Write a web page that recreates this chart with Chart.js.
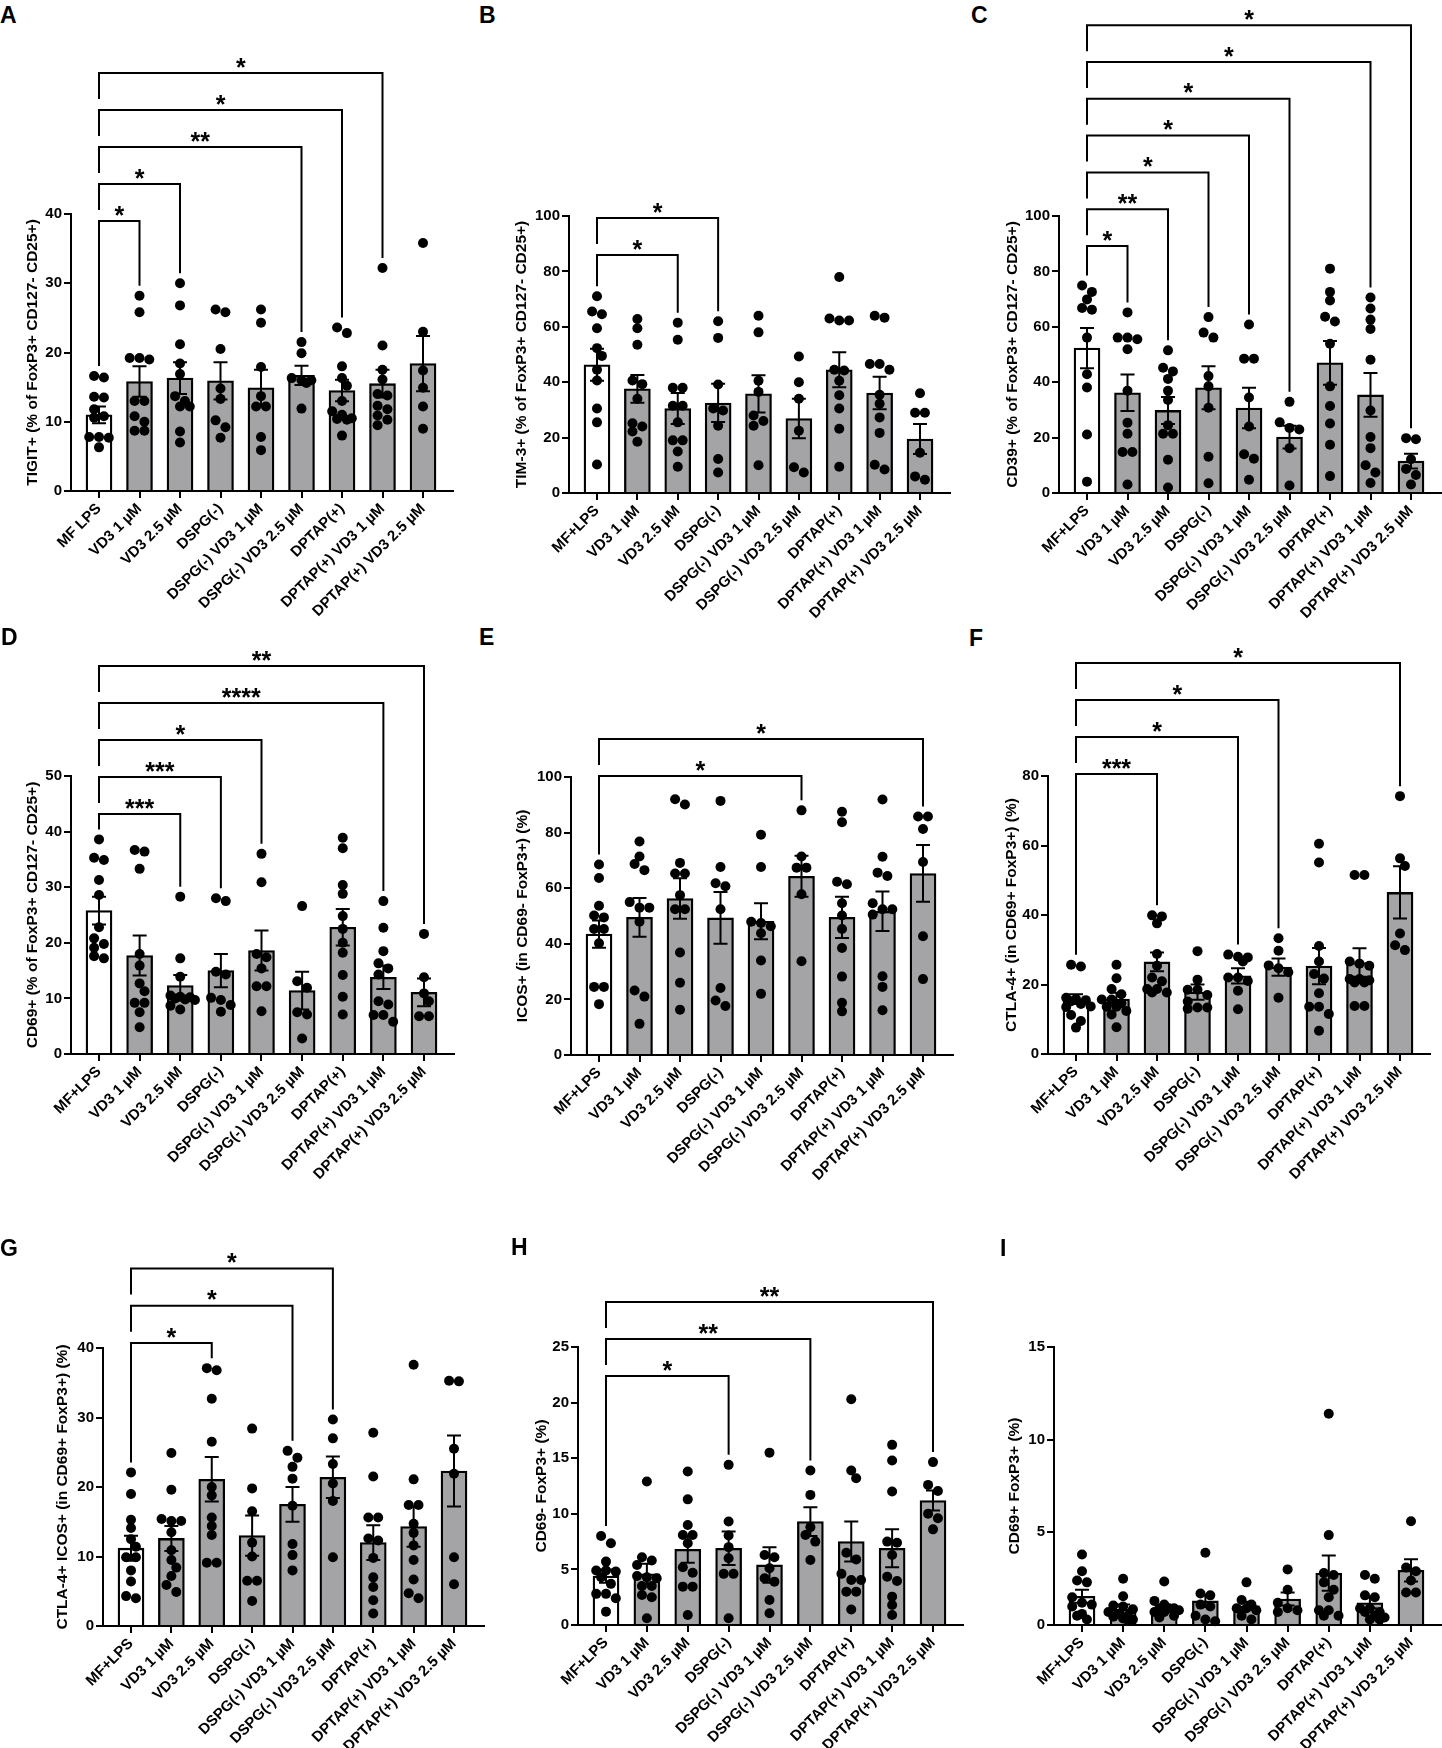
<!DOCTYPE html>
<html>
<head>
<meta charset="utf-8">
<script src="https://cdn.jsdelivr.net/npm/chart.js@4.4.1/dist/chart.umd.min.js"></script>
<style>
  html, body { margin: 0; padding: 0; background: #fff; overflow: hidden; }
  #fig { position: relative; width: 1442px; height: 1748px; }
  #fig canvas { position: absolute; }
  .tag { position: absolute; font: bold 23px "Liberation Sans", Arial, sans-serif; line-height: 23px; color: #000; }
</style>
</head>
<body>
<div id="fig"></div>
<script>
// groups (x axis)
const groups = ["MF+LPS", "VD3 1 µM", "VD3 2.5 µM", "DSPG(-)", "DSPG(-) VD3 1 µM", "DSPG(-) VD3 2.5 µM", "DPTAP(+)", "DPTAP(+) VD3 1 µM", "DPTAP(+) VD3 2.5 µM"];
const groupsA = ["MF LPS"].concat(groups.slice(1));

// y ticks
const ticks40 = [0, 10, 20, 30, 40];
const ticks50 = [0, 10, 20, 30, 40, 50];
const ticks80 = [0, 20, 40, 60, 80];
const ticks100 = [0, 20, 40, 60, 80, 100];
const ticks25 = [0, 5, 10, 15, 20, 25];
const ticks15 = [0, 5, 10, 15];

// A - TIGIT
const tigitMean = [11.0, 15.8, 16.3, 15.9, 14.9, 16.7, 14.5, 15.5, 18.4];
const tigitSem = [1.2, 2.2, 2.3, 2.7, 2.6, 1.4, 1.55, 2.0, 4.0];
const tigitDots = [
  [16.6, 16.4, 13.6, 13.5, 11.8, 10.8, 10.6, 7.8, 7.7, 7.8, 6.3],
  [28.2, 25.8, 19.2, 19.0, 19.2, 13.0, 13.0, 10.8, 10.0, 8.7, 8.7],
  [30.0, 26.8, 21.2, 18.4, 16.9, 13.7, 13.0, 12.2, 12.2, 8.6, 7.0],
  [25.8, 26.2, 20.5, 14.8, 13.3, 10.2, 9.2, 7.7],
  [26.2, 24.3, 17.9, 13.7, 12.2, 12.2, 7.8, 5.9],
  [21.5, 19.9, 16.0, 16.0, 15.6, 16.3, 11.9],
  [23.6, 22.8, 18.0, 16.3, 15.2, 13.0, 11.5, 11.0, 10.5, 10.3, 10.4, 8.0],
  [32.2, 21.0, 17.5, 16.1, 14.0, 13.8, 12.3, 11.8, 10.9, 10.3, 9.5],
  [35.8, 23.0, 17.4, 14.9, 12.2, 9.0]
];
const tigitSig = [[0, 1, "*"], [0, 2, "*"], [0, 5, "**"], [0, 6, "*"], [0, 7, "*"]];

// B - TIM-3
const tim3Mean = [46.3, 37.6, 30.5, 32.5, 35.8, 26.9, 44.5, 36.1, 19.5];
const tim3Sem = [5.8, 5.0, 5.6, 6.9, 6.7, 7.1, 6.3, 5.9, 5.4];
const tim3Dots = [
  [71.0, 64.5, 65.5, 59.5, 52.3, 49.5, 44.5, 40.6, 30.5, 25.5, 10.3],
  [62.8, 59.5, 53.5, 40.6, 39.3, 34.0, 25.2, 24.0, 22.2, 18.5],
  [61.5, 55.3, 38.0, 38.0, 31.5, 31.5, 25.5, 19.0, 19.0, 15.0, 9.5],
  [62.0, 56.0, 39.2, 30.5, 29.8, 24.3, 12.3, 7.4],
  [64.0, 58.0, 40.5, 36.5, 28.0, 26.0, 24.3, 10.0],
  [49.3, 40.0, 34.0, 22.5, 9.3, 7.4],
  [78.0, 62.3, 62.3, 63.0, 44.5, 44.2, 40.5, 35.3, 30.5, 23.2, 9.5],
  [64.0, 63.3, 46.6, 46.6, 44.5, 35.5, 32.2, 27.3, 21.7, 10.2, 8.5],
  [36.0, 29.0, 29.0, 14.5, 6.0, 4.8]
];
const tim3Sig = [[0, 2, "*"], [0, 3, "*"]];

// C - CD39
const cd39Mean = [52.3, 36.2, 29.8, 38.0, 30.7, 20.2, 47.0, 35.4, 11.5];
const cd39Sem = [7.3, 6.6, 4.9, 7.8, 7.3, 4.1, 7.9, 7.9, 2.7];
const cd39Dots = [
  [72.6, 66.8, 74.9, 69.9, 66.2, 56.1, 42.9, 38.1, 21.1, 4.1],
  [65.2, 56.1, 56.1, 55.5, 51.9, 36.9, 25.4, 21.4, 14.8, 14.8, 3.1],
  [51.5, 43.9, 45.2, 41.2, 36.9, 33.6, 24.5, 21.4, 21.4, 12.0, 2.0],
  [63.5, 57.9, 56.1, 42.2, 38.5, 30.8, 13.1, 3.5],
  [60.8, 48.5, 48.5, 34.5, 24.0, 14.0, 12.4, 4.8],
  [32.9, 25.5, 22.9, 23.5, 16.2, 2.7],
  [81.0, 72.6, 69.5, 63.6, 61.9, 53.9, 38.5, 31.4, 25.1, 17.4, 6.1],
  [70.6, 66.6, 62.6, 59.2, 48.1, 29.8, 20.2, 16.2, 10.0, 7.4, 3.6],
  [19.4, 19.8, 12.2, 8.7, 6.5, 3.1]
];
const cd39Sig = [[0, 1, "*"], [0, 2, "**"], [0, 3, "*"], [0, 4, "*"], [0, 5, "*"], [0, 7, "*"], [0, 8, "*"]];

// D - CD69
const cd69Mean = [25.8, 17.7, 12.3, 15.0, 18.6, 11.4, 22.8, 13.8, 11.1];
const cd69Sem = [2.5, 3.6, 1.9, 3.0, 3.6, 3.4, 3.3, 2.1, 2.5];
const cd69Dots = [
  [38.6, 34.9, 35.3, 31.3, 28.6, 22.8, 20.8, 19.8, 19.1, 17.2, 17.6],
  [36.4, 36.7, 33.3, 18.0, 15.9, 12.7, 11.3, 9.2, 9.2, 7.5, 4.8],
  [28.3, 17.2, 13.9, 10.5, 10.3, 10.2, 10.0, 9.8, 9.7, 8.7, 8.0],
  [28.0, 27.5, 14.8, 14.3, 10.1, 9.7, 8.8, 7.6],
  [36.0, 30.9, 18.0, 17.4, 15.4, 12.2, 12.2, 7.7],
  [26.6, 13.1, 11.9, 7.5, 7.1, 2.8],
  [38.9, 37.0, 30.4, 28.8, 24.8, 22.5, 20.0, 18.2, 14.2, 10.3, 7.1],
  [27.5, 22.7, 18.5, 16.3, 15.4, 14.3, 9.5, 8.9, 7.0, 7.0, 5.8],
  [21.6, 13.8, 10.9, 9.5, 6.8, 6.8]
];
const cd69Sig = [[0, 2, "***"], [0, 3, "***"], [0, 4, "*"], [0, 7, "****"], [0, 8, "**"]];

// E - ICOS
const icosMean = [43.5, 49.5, 56.3, 49.3, 48.1, 64.3, 49.5, 51.7, 65.3];
const icosSem = [4.9, 7.0, 7.3, 9.3, 6.5, 7.4, 7.4, 7.1, 10.2];
const icosDots = [
  [68.5, 63.7, 53.7, 50.2, 49.5, 45.3, 45.3, 40.2, 24.5, 24.5, 18.3],
  [76.8, 71.4, 68.7, 66.5, 55.0, 53.0, 53.0, 47.9, 21.0, 23.2, 11.2],
  [90.1, 92.0, 69.1, 65.3, 65.3, 57.5, 52.4, 52.4, 36.9, 26.0, 16.3],
  [91.4, 67.6, 61.8, 60.7, 52.4, 24.1, 19.6, 17.6],
  [79.2, 67.6, 47.9, 47.5, 46.3, 43.8, 34.0, 22.0],
  [88.0, 71.4, 67.4, 67.4, 57.8, 33.7],
  [87.5, 83.7, 62.3, 61.4, 54.6, 50.2, 45.3, 38.5, 28.2, 18.8, 15.7],
  [91.9, 71.3, 65.6, 64.4, 54.6, 52.4, 52.4, 50.5, 28.3, 24.5, 16.1],
  [85.8, 85.8, 81.3, 69.4, 42.7, 27.3]
];
const icosSig = [[0, 5, "*"], [0, 8, "*"]];

// F - CTLA-4
const ctlaMean = [15.8, 15.8, 26.5, 17.8, 22.5, 25.0, 25.3, 26.3, 46.5];
const ctlaSem = [1.4, 1.8, 2.7, 2.2, 2.2, 2.5, 5.2, 4.1, 7.5];
const ctlaDots = [
  [25.7, 25.2, 16.2, 15.8, 15.5, 15.2, 14.4, 13.7, 13.5, 11.2, 9.5, 7.6],
  [25.7, 21.8, 18.7, 17.2, 15.7, 15.7, 14.6, 13.6, 13.6, 12.4, 11.4, 7.7],
  [39.9, 39.6, 37.6, 28.8, 25.4, 22.0, 20.9, 18.7, 18.7, 17.7, 17.7],
  [29.6, 21.4, 18.5, 18.5, 17.0, 15.1, 13.4, 13.4, 13.0],
  [28.0, 28.6, 27.8, 26.6, 22.0, 22.0, 21.0, 18.2, 12.9],
  [33.3, 29.7, 25.5, 24.7, 23.5, 16.2],
  [60.5, 55.1, 31.1, 26.6, 23.0, 21.7, 17.5, 13.6, 13.6, 11.5, 6.7],
  [51.5, 51.5, 26.6, 26.0, 25.4, 21.6, 21.6, 21.2, 20.6, 20.6, 13.8, 13.8],
  [74.2, 56.3, 54.1, 34.7, 31.3, 29.9]
];
const ctlaSig = [[0, 2, "***"], [0, 4, "*"], [0, 5, "*"], [0, 8, "*"]];

// G - CTLA-4+ ICOS+
const dblMean = [11.2, 12.6, 21.1, 13.0, 17.5, 21.4, 12.0, 14.3, 22.3];
const dblSem = [1.8, 1.8, 3.2, 2.9, 2.5, 3.0, 2.5, 2.9, 5.1];
const dblDots = [
  [22.1, 19.0, 15.3, 14.1, 12.5, 11.4, 9.9, 9.9, 8.0, 6.4, 4.0, 4.3],
  [24.9, 19.6, 15.1, 15.1, 15.4, 13.5, 10.9, 9.5, 8.4, 7.2, 5.9, 4.9],
  [36.8, 37.1, 32.7, 26.5, 20.0, 18.8, 15.6, 14.4, 13.1, 9.1, 9.1],
  [28.4, 19.8, 16.5, 12.0, 10.0, 6.5, 6.5, 3.6],
  [24.2, 25.2, 22.9, 21.2, 17.3, 11.8, 10.2, 8.0],
  [29.7, 27.0, 23.3, 20.5, 18.0, 9.9],
  [27.8, 21.5, 15.6, 15.6, 12.6, 12.3, 9.8, 7.0, 5.6, 3.7, 1.8],
  [37.6, 21.1, 17.4, 17.4, 14.7, 13.4, 11.6, 9.5, 6.7, 4.7, 4.0],
  [35.2, 35.3, 25.5, 21.9, 9.9, 6.0]
];
const dblSig = [[0, 2, "*"], [0, 4, "*"], [0, 5, "*"]];

// H - CD69- FoxP3+
const negMean = [4.4, 4.6, 6.8, 6.9, 5.4, 9.3, 7.5, 6.9, 11.2];
const negSem = [0.6, 0.9, 1.2, 1.5, 1.6, 1.3, 1.8, 1.7, 0.9];
const negDots = [
  [8.0, 7.35, 5.7, 4.9, 4.9, 4.8, 4.3, 3.7, 2.8, 2.8, 2.4, 1.2],
  [12.9, 6.1, 5.8, 5.4, 4.4, 4.3, 4.2, 3.5, 3.5, 2.7, 2.5, 0.6],
  [13.8, 11.3, 9.0, 8.1, 8.1, 7.35, 5.2, 4.7, 3.45, 3.45, 0.9],
  [14.4, 9.3, 8.05, 7.0, 6.0, 4.6, 4.6, 0.6],
  [15.5, 6.3, 6.1, 5.1, 4.2, 3.9, 2.25, 1.05],
  [13.9, 11.7, 8.8, 8.1, 7.5, 5.85],
  [20.3, 13.9, 13.2, 6.5, 5.9, 4.6, 4.05, 4.05, 3.0, 3.0, 1.4],
  [16.2, 14.8, 12.0, 7.4, 7.5, 6.3, 4.35, 3.95, 2.55, 1.8, 0.9],
  [14.65, 12.6, 12.05, 10.0, 9.6, 8.6]
];
const negSig = [[0, 3, "*"], [0, 5, "**"], [0, 8, "**"]];

// I - CD69+ FoxP3+
const posMean = [1.55, 0.85, 0.9, 1.3, 1.03, 1.4, 2.8, 1.2, 2.95];
const posSem = [0.35, 0.25, 0.15, 0.33, 0.22, 0.35, 0.95, 0.3, 0.6];
const posDots = [
  [3.8, 2.9, 2.4, 2.3, 1.5, 1.2, 1.1, 1.0, 0.6, 0.5, 0.3],
  [2.5, 1.55, 1.05, 1.0, 0.85, 0.7, 0.6, 0.5, 0.45, 0.35, 0.3, 0.25],
  [2.35, 1.3, 1.1, 0.9, 0.9, 0.9, 0.8, 0.7, 0.7, 0.5, 0.4],
  [3.9, 1.7, 1.6, 1.1, 1.0, 0.5, 0.3, 0.2],
  [2.3, 1.35, 1.1, 0.9, 0.9, 0.8, 0.5, 0.3],
  [3.0, 1.9, 1.2, 0.9, 0.8, 0.7],
  [11.4, 4.85, 2.8, 2.7, 2.3, 1.9, 1.5, 0.8, 0.8, 0.5, 0.5],
  [2.7, 2.5, 1.6, 1.5, 0.9, 0.9, 0.7, 0.7, 0.5, 0.4, 0.3, 0.3],
  [5.6, 3.1, 2.9, 2.4, 1.75, 1.75]
];
const posSig = [];

// look
const FONT_FAMILY = '"Liberation Sans", Arial, sans-serif';
const BAR_GRAY = "#a4a4a7";
const DOT_R = 5;
const CAP = 7;
const YAXIS_W = 60;

Chart.defaults.font.family = FONT_FAMILY;
Chart.defaults.font.weight = "bold";
Chart.defaults.color = "#000";

// canvas layout per panel (page px): axis box L..R, yT..y0, canvas ct..cb
const panels = [
  { tag: "A", cats: groupsA, title: "TIGIT+ (% of FoxP3+ CD127- CD25+)", ticks: ticks40, means: tigitMean, sem: tigitSem, dots: tigitDots, sig: tigitSig,
    lay: { L: 71, R: 453, yT: 214, y0: 491, ct: 0, cb: 632, tOff: 38, sigBase: 7, sigStep: 37, tagX: 0, tagY: 4 } },
  { tag: "B", cats: groups, title: "TIM-3+ (% of FoxP3+ CD127- CD25+)", ticks: ticks100, means: tim3Mean, sem: tim3Sem, dots: tim3Dots, sig: tim3Sig,
    lay: { L: 569, R: 950, yT: 216, y0: 493, ct: 0, cb: 632, tOff: 47, sigBase: 39, sigStep: 37, tagX: 479, tagY: 4 } },
  { tag: "C", cats: groups, title: "CD39+ (% of FoxP3+ CD127- CD25+)", ticks: ticks100, means: cd39Mean, sem: cd39Sem, dots: cd39Dots, sig: cd39Sig,
    lay: { L: 1059, R: 1441, yT: 216, y0: 493, ct: 0, cb: 632, tOff: 46, sigBase: 30, sigStep: 36.8, tagX: 971, tagY: 4 } },
  { tag: "D", cats: groups, title: "CD69+ (% of FoxP3+ CD127- CD25+)", ticks: ticks50, means: cd69Mean, sem: cd69Sem, dots: cd69Dots, sig: cd69Sig,
    lay: { L: 71, R: 454, yT: 776, y0: 1054, ct: 615, cb: 1240, tOff: 38, sigBase: 38, sigStep: 37, tagX: 1, tagY: 626 } },
  { tag: "E", cats: groups, title: "ICOS+ (in CD69- FoxP3+) (%)", ticks: ticks100, means: icosMean, sem: icosSem, dots: icosDots, sig: icosSig,
    lay: { L: 571, R: 953, yT: 777, y0: 1055, ct: 615, cb: 1240, tOff: 48, sigBase: -1, sigStep: 37, tagX: 479, tagY: 626 } },
  { tag: "F", cats: groups, title: "CTLA-4+ (in CD69+ FoxP3+) (%)", ticks: ticks80, means: ctlaMean, sem: ctlaSem, dots: ctlaDots, sig: ctlaSig,
    lay: { L: 1048, R: 1430, yT: 776, y0: 1054, ct: 615, cb: 1240, tOff: 36, sigBase: -2, sigStep: 37, tagX: 969, tagY: 627 } },
  { tag: "G", cats: groups, title: "CTLA-4+ ICOS+ (in CD69+ FoxP3+) (%)", ticks: ticks40, means: dblMean, sem: dblSem, dots: dblDots, sig: dblSig,
    lay: { L: 103, R: 484, yT: 1348, y0: 1626, ct: 1235, cb: 1748, tOff: 40, sigBase: -5, sigStep: 37.2, tagX: 0, tagY: 1237 } },
  { tag: "H", cats: groups, title: "CD69- FoxP3+ (%)", ticks: ticks25, means: negMean, sem: negSem, dots: negDots, sig: negSig,
    lay: { L: 578, R: 963, yT: 1347, y0: 1625, ct: 1235, cb: 1748, tOff: 36, sigBase: 29, sigStep: 37, tagX: 511, tagY: 1236 } },
  { tag: "I", cats: groups, title: "CD69+ FoxP3+ (%)", ticks: ticks15, means: posMean, sem: posSem, dots: posDots, sig: posSig,
    lay: { L: 1054, R: 1441, yT: 1347, y0: 1625, ct: 1235, cb: 1748, tOff: 39, sigBase: 0, sigStep: 37, tagX: 1000, tagY: 1237 } }
];

// GraphPad-like scatter: near-equal values sit side by side (max 3), centred;
// rows dodge each other by half a dot, and overlap when the group is too dense
function swarm(vals, ppu) {
  const g = 2 * DOT_R - 0.2;
  const idx = vals.map((v, i) => i).sort((a, b) => vals[b] - vals[a]);
  const placed = [];
  const offs = [];
  let i = 0;
  while (i < idx.length) {
    const row = [idx[i]];
    let j = i + 1;
    while (j < idx.length && row.length < 3 && (vals[idx[i]] - vals[idx[j]]) * ppu < 1.5 * DOT_R) row.push(idx[j++]);
    i = j;
    const base = row.map((_, k) => (k - (row.length - 1) / 2) * g);
    let best = 0, bestGap = -1;
    for (const sh of [0, g / 2, -g / 2, g, -g]) {
      if (Math.abs(sh) > g / 2 && row.length > 1) continue;
      let gap = Infinity;
      row.forEach((id, k) => placed.forEach((p) => {
        gap = Math.min(gap, Math.hypot(p.x - base[k] - sh, (p.v - vals[id]) * ppu));
      }));
      if (gap >= 2 * DOT_R - 2) { best = sh; bestGap = gap; break; }
      if (gap > bestGap + 1.5) { best = sh; bestGap = gap; }
    }
    row.forEach((id, k) => {
      offs[id] = base[k] + best;
      placed.push({ x: base[k] + best, v: vals[id] });
    });
  }
  return offs;
}

function extras(p) {
  const lay = p.lay;
  return {
    id: "extras",
    // error bars right after the bars, under the dots
    afterDatasetDraw(chart, args) {
      if (args.meta.type !== "bar") return;
      const { ctx } = chart;
      const xs = chart.scales.x, ys = chart.scales.y;
      ctx.save();
      ctx.strokeStyle = "#000";
      ctx.lineWidth = 2;
      p.means.forEach((m, i) => {
        const x = xs.getPixelForValue(i);
        const hi = ys.getPixelForValue(m + p.sem[i]);
        const lo = ys.getPixelForValue(Math.max(m - p.sem[i], 0));
        ctx.beginPath();
        ctx.moveTo(x, hi); ctx.lineTo(x, lo);
        ctx.moveTo(x - CAP, hi); ctx.lineTo(x + CAP, hi);
        ctx.moveTo(x - CAP, lo); ctx.lineTo(x + CAP, lo);
        ctx.stroke();
      });
      ctx.restore();
    },
    afterDraw(chart) {
      const { ctx } = chart;
      const xs = chart.scales.x, ys = chart.scales.y;
      const area = chart.chartArea;

      // y title
      ctx.save();
      ctx.font = "bold 15.5px " + FONT_FAMILY;
      ctx.fillStyle = "#000";
      ctx.textAlign = "center";
      ctx.textBaseline = "middle";
      ctx.translate(area.left - lay.tOff, (area.top + area.bottom) / 2);
      ctx.rotate(-Math.PI / 2);
      ctx.fillText(p.title, 0, 0);
      ctx.restore();

      // significance brackets
      const groupTop = (i) => ys.getPixelForValue(Math.max(Math.max(...p.dots[i]), p.means[i] + p.sem[i]));
      ctx.save();
      ctx.strokeStyle = "#000";
      ctx.fillStyle = "#000";
      ctx.lineWidth = 2;
      ctx.lineJoin = "miter";
      ctx.font = "bold 25px " + FONT_FAMILY;
      ctx.textAlign = "center";
      ctx.textBaseline = "alphabetic";
      p.sig.forEach(([a, b, lab], k) => {
        const yLine = area.top + lay.sigBase - k * lay.sigStep;
        const xa = xs.getPixelForValue(a), xb = xs.getPixelForValue(b);
        const leftEnd = k === 0 ? groupTop(a) - 10 : yLine + 26;
        const rightEnd = groupTop(b) - 10;
        ctx.beginPath();
        ctx.moveTo(xa, leftEnd);
        ctx.lineTo(xa, yLine);
        ctx.lineTo(xb, yLine);
        ctx.lineTo(xb, rightEnd);
        ctx.stroke();
        const mt = ctx.measureText(lab);
        const target = yLine - 10.5;
        const baseY = target + (mt.actualBoundingBoxAscent - mt.actualBoundingBoxDescent) / 2;
        ctx.fillText(lab, (xa + xb) / 2, baseY);
      });
      ctx.restore();
    }
  };
}

const fig = document.getElementById("fig");

panels.forEach((p) => {
  const lay = p.lay;
  const yMax = p.ticks[p.ticks.length - 1];
  const left = lay.L - YAXIS_W;
  const cw = lay.R - left + 12;
  const ch = lay.cb - lay.ct;

  const tag = document.createElement("div");
  tag.className = "tag";
  tag.textContent = p.tag;
  tag.style.left = lay.tagX + "px";
  tag.style.top = lay.tagY + "px";
  fig.appendChild(tag);

  const cv = document.createElement("canvas");
  cv.width = cw;
  cv.height = ch;
  cv.style.left = left + "px";
  cv.style.top = lay.ct + "px";
  cv.style.width = cw + "px";
  cv.style.height = ch + "px";
  fig.appendChild(cv);

  const step = (lay.R - lay.L - 58) / 8; // px per group
  const ppu = (lay.y0 - lay.yT) / yMax;
  const pts = [];
  p.dots.forEach((vals, gi) => {
    const offs = swarm(vals, ppu);
    vals.forEach((v, k) => pts.push({ x: gi + offs[k] / step, y: v }));
  });

  const axisLine = { display: true, color: "#000", width: 2 };
  const tickMarks = { display: true, drawOnChartArea: false, drawTicks: true, tickLength: 7, lineWidth: 2, color: "#000", offset: false };

  new Chart(cv, {
    type: "bar",
    data: {
      datasets: [
        {
          type: "scatter",
          data: pts,
          pointRadius: DOT_R,
          pointHoverRadius: DOT_R,
          backgroundColor: "#000",
          borderWidth: 0,
          clip: false,
          order: 1
        },
        {
          type: "bar",
          data: p.means.map((m, i) => ({ x: i, y: m })),
          backgroundColor: p.means.map((_, i) => (i === 0 ? "#ffffff" : BAR_GRAY)),
          borderColor: "#000",
          borderWidth: 2.3,
          barThickness: 26,
          order: 2
        }
      ]
    },
    options: {
      responsive: false,
      animation: false,
      events: [],
      layout: { padding: { top: lay.yT - lay.ct, right: 12, left: 0, bottom: 0 } },
      plugins: { legend: { display: false }, tooltip: { enabled: false } },
      scales: {
        x: {
          type: "linear",
          min: -28 / step,
          max: 8 + 30 / step,
          offset: false,
          afterFit: (s) => { s.height = lay.cb - lay.y0; },
          afterBuildTicks: (s) => { s.ticks = p.cats.map((_, i) => ({ value: i })); },
          ticks: {
            autoSkip: false,
            minRotation: 45,
            maxRotation: 45,
            padding: 2,
            color: "#000",
            font: { size: 15, weight: "bold" },
            callback: (v) => p.cats[v]
          },
          grid: tickMarks,
          border: axisLine
        },
        y: {
          type: "linear",
          min: 0,
          max: yMax,
          afterFit: (s) => { s.width = YAXIS_W; },
          afterBuildTicks: (s) => { s.ticks = p.ticks.map((v) => ({ value: v })); },
          ticks: { padding: 2, color: "#000", font: { size: 15, weight: "bold" } },
          grid: tickMarks,
          border: axisLine
        }
      }
    },
    plugins: [extras(p)]
  });
});
</script>
</body>
</html>
